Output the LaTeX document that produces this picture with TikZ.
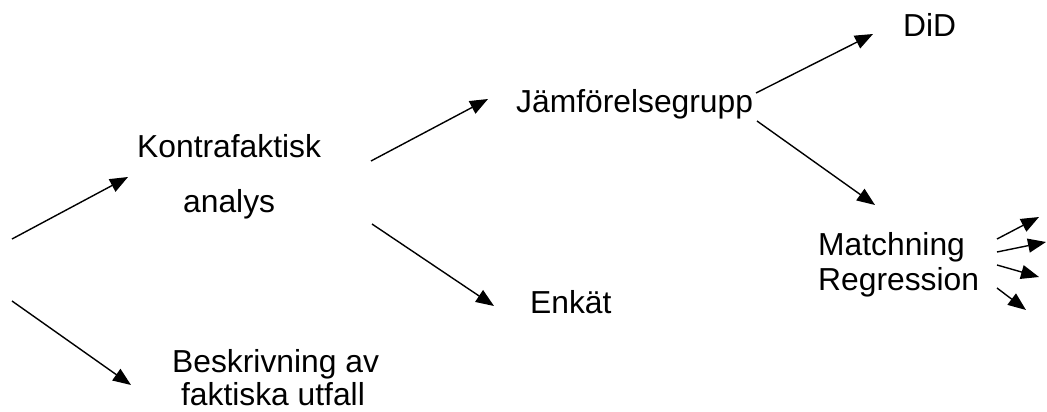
\documentclass[tikz,border=0pt]{standalone}
\usepackage{fontspec}
\setmainfont{Liberation Sans}
\usetikzlibrary{arrows.meta}
\begin{document}
\begin{tikzpicture}[x=1pt,y=-1pt,
  lbl/.style={inner sep=0pt,font=\fontsize{31.8}{38}\selectfont},
  arr/.style={line width=1.4pt,-{Triangle[length=18pt,width=14pt]}}]
\useasboundingbox (0,0) rectangle (1047,412);
% texts
\node[lbl,anchor=base west] (k1) at (137,157) {Kontrafaktisk};
\node[lbl,anchor=base west] (k2) at (183,212) {analys};
\node[lbl,anchor=base west] (b1) at (172,372) {Beskrivning av};
\node[lbl,anchor=base] (b2) at (273,405) {faktiska utfall};
\node[lbl,anchor=base west] (jg) at (516,113) {Jämförelsegrupp};
\node[lbl,anchor=base west] (en) at (530,313) {Enkät};
\node[lbl,anchor=base west] (did) at (903,37) {DiD};
\node[lbl,anchor=base west] (ma) at (818,255) {Matchning};
\node[lbl,anchor=base west] (re) at (818,290) {Regression};
% arrow end points
\coordinate (s0a) at (12,239);   \coordinate (t1) at (128,177);
\coordinate (s0b) at (12,301);   \coordinate (t2) at (131,385);
\coordinate (s1a) at (371,161);  \coordinate (t3) at (488,99);
\coordinate (s1b) at (372,224);  \coordinate (t4) at (494,306);
\coordinate (s2a) at (756,93);   \coordinate (t5) at (873,34);
\coordinate (s2b) at (757,121);  \coordinate (t6) at (875,205);
\coordinate (s3a) at (997,239);  \coordinate (t7) at (1039,217);
\coordinate (s3b) at (997,252);  \coordinate (t8) at (1046,242);
\coordinate (s3c) at (997,265);  \coordinate (t9) at (1039,277);
\coordinate (s3d) at (997,288);  \coordinate (t10) at (1026,310);
\draw[arr] (s0a) -- (t1);
\draw[arr] (s0b) -- (t2);
\draw[arr] (s1a) -- (t3);
\draw[arr] (s1b) -- (t4);
\draw[arr] (s2a) -- (t5);
\draw[arr] (s2b) -- (t6);
\draw[arr] (s3a) -- (t7);
\draw[arr] (s3b) -- (t8);
\draw[arr] (s3c) -- (t9);
\draw[arr] (s3d) -- (t10);
\end{tikzpicture}
\end{document}
